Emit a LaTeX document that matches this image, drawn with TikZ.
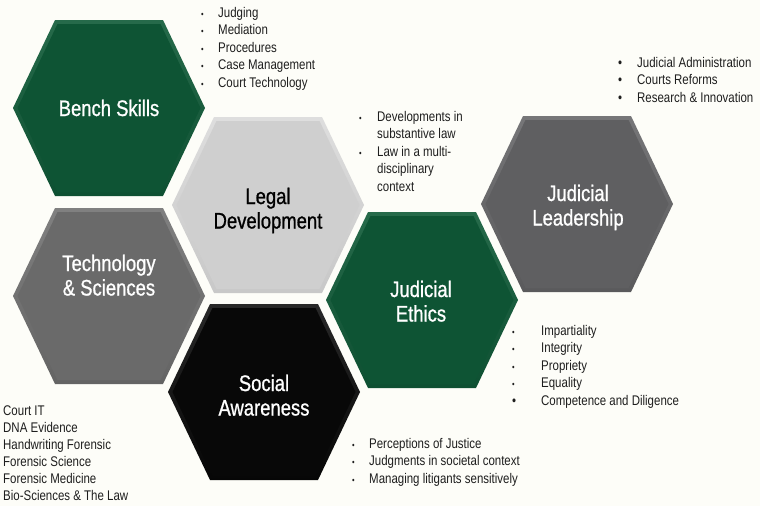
\documentclass[tikz,border=0pt]{standalone}
\usepackage{fontspec}
\setmainfont{Liberation Sans}[FakeStretch=0.82]
\newfontfamily\labelfont{Liberation Sans}[FakeStretch=0.82,FakeBold=0.9]
\definecolor{bg}{RGB}{253,253,248}
\definecolor{gbase}{RGB}{14,84,52}
\definecolor{gtop}{RGB}{38,106,74}
\definecolor{gbot}{RGB}{14,80,50}
\definecolor{lbase}{RGB}{207,207,207}
\definecolor{ltop}{RGB}{222,222,222}
\definecolor{lbot}{RGB}{200,200,200}
\definecolor{tbase}{RGB}{106,106,106}
\definecolor{ttop}{RGB}{128,128,128}
\definecolor{tbot}{RGB}{100,100,100}
\definecolor{dbase}{RGB}{95,95,97}
\definecolor{dtop}{RGB}{118,118,120}
\definecolor{dbot}{RGB}{90,90,92}
\definecolor{kbase}{RGB}{8,8,8}
\definecolor{ktop}{RGB}{40,40,40}
\definecolor{kbot}{RGB}{6,6,6}
\definecolor{txt}{RGB}{30,30,30}
\newcommand{\sbul}{{\fontsize{9}{10}\selectfont\textbullet}}
\newcommand{\bbul}{\textbullet}
\tikzset{
  pics/hexa/.style n args={3}{code={
    \shade[top color=#2,bottom color=#3]
      (-96,0)--(-54,-88)--(54,-88)--(96,0)--(54,88)--(-54,88)--cycle;
    \fill[#1]
      (-91.5,0)--(-51.5,-84)--(51.5,-84)--(91.5,0)--(51.5,84)--(-51.5,84)--cycle;
  }},
  hexlabel/.style={font=\labelfont\fontsize{22.5}{24.5}\selectfont, anchor=base, inner sep=0pt, text=white},
  itemlist/.style={font=\fontsize{14}{17.5}\selectfont, anchor=base west, inner sep=0pt, text=txt},
  techlist/.style={font=\fontsize{14}{17}\selectfont, anchor=base west, inner sep=0pt, text=txt}
}
\begin{document}
\begin{tikzpicture}[x=1pt,y=-1pt]
\fill[bg] (0,0) rectangle (760,506);
\useasboundingbox (0,0) rectangle (760,506);

% hexagons
\pic (hbench) at (109,108) {hexa={gbase}{gtop}{gbot}};
\pic (hlegal) at (268,205) {hexa={lbase}{ltop}{lbot}};
\pic (htech)  at (109,296) {hexa={tbase}{ttop}{tbot}};
\pic (hsocial) at (264,392) {hexa={kbase}{ktop}{kbot}};
\pic (hethics) at (422,300) {hexa={gbase}{gtop}{gbot}};
\pic (hlead)  at (577,204) {hexa={dbase}{dtop}{dbot}};

% hexagon labels
\node[hexlabel] (lbench) at (109,116) {Bench Skills};
\node[hexlabel, text=black] (llegal) at (268,204) {\begin{tabular}[t]{@{}c@{}}Legal\\Development\end{tabular}};
\node[hexlabel] (ltech) at (109,271) {\begin{tabular}[t]{@{}c@{}}Technology\\\& Sciences\end{tabular}};
\node[hexlabel] (lsocial) at (264,391) {\begin{tabular}[t]{@{}c@{}}Social\\Awareness\end{tabular}};
\node[hexlabel] (lethics) at (421,297) {\begin{tabular}[t]{@{}c@{}}Judicial\\Ethics\end{tabular}};
\node[hexlabel] (llead) at (578,201) {\begin{tabular}[t]{@{}c@{}}Judicial\\Leadership\end{tabular}};

% lists
\node[itemlist] (bench) at (201,17) {\begin{tabular}[t]{@{}l@{}}
\makebox[17pt][l]{\sbul}Judging\\
\makebox[17pt][l]{\sbul}Mediation\\
\makebox[17pt][l]{\sbul}Procedures\\
\makebox[17pt][l]{\sbul}Case Management\\
\makebox[17pt][l]{\sbul}Court Technology
\end{tabular}};

\node[itemlist] (legal) at (359,121) {\begin{tabular}[t]{@{}l@{}}
\makebox[18pt][l]{\sbul}Developments in\\
\makebox[18pt][l]{}substantive law\\
\makebox[18pt][l]{\sbul}Law in a multi-\\
\makebox[18pt][l]{}disciplinary\\
\makebox[18pt][l]{}context
\end{tabular}};

\node[itemlist] (lead) at (618,67) {\begin{tabular}[t]{@{}l@{}}
\makebox[19pt][l]{\bbul}Judicial Administration\\
\makebox[19pt][l]{\bbul}Courts Reforms\\
\makebox[19pt][l]{\bbul}Research \& Innovation
\end{tabular}};

\node[itemlist] (ethics) at (512,335) {\begin{tabular}[t]{@{}l@{}}
\makebox[29pt][l]{\sbul}Impartiality\\
\makebox[29pt][l]{\sbul}Integrity\\
\makebox[29pt][l]{\sbul}Propriety\\
\makebox[29pt][l]{\sbul}Equality\\
\makebox[29pt][l]{\bbul}Competence and Diligence
\end{tabular}};

\node[techlist] (tech) at (3,415) {\begin{tabular}[t]{@{}l@{}}
Court IT\\
DNA Evidence\\
Handwriting Forensic\\
Forensic Science\\
Forensic Medicine\\
Bio-Sciences \& The Law
\end{tabular}};

\node[itemlist] (social) at (352,448) {\begin{tabular}[t]{@{}l@{}}
\makebox[17pt][l]{\sbul}Perceptions of Justice\\
\makebox[17pt][l]{\sbul}Judgments in societal context\\
\makebox[17pt][l]{\sbul}Managing litigants sensitively
\end{tabular}};
\end{tikzpicture}
\end{document}
